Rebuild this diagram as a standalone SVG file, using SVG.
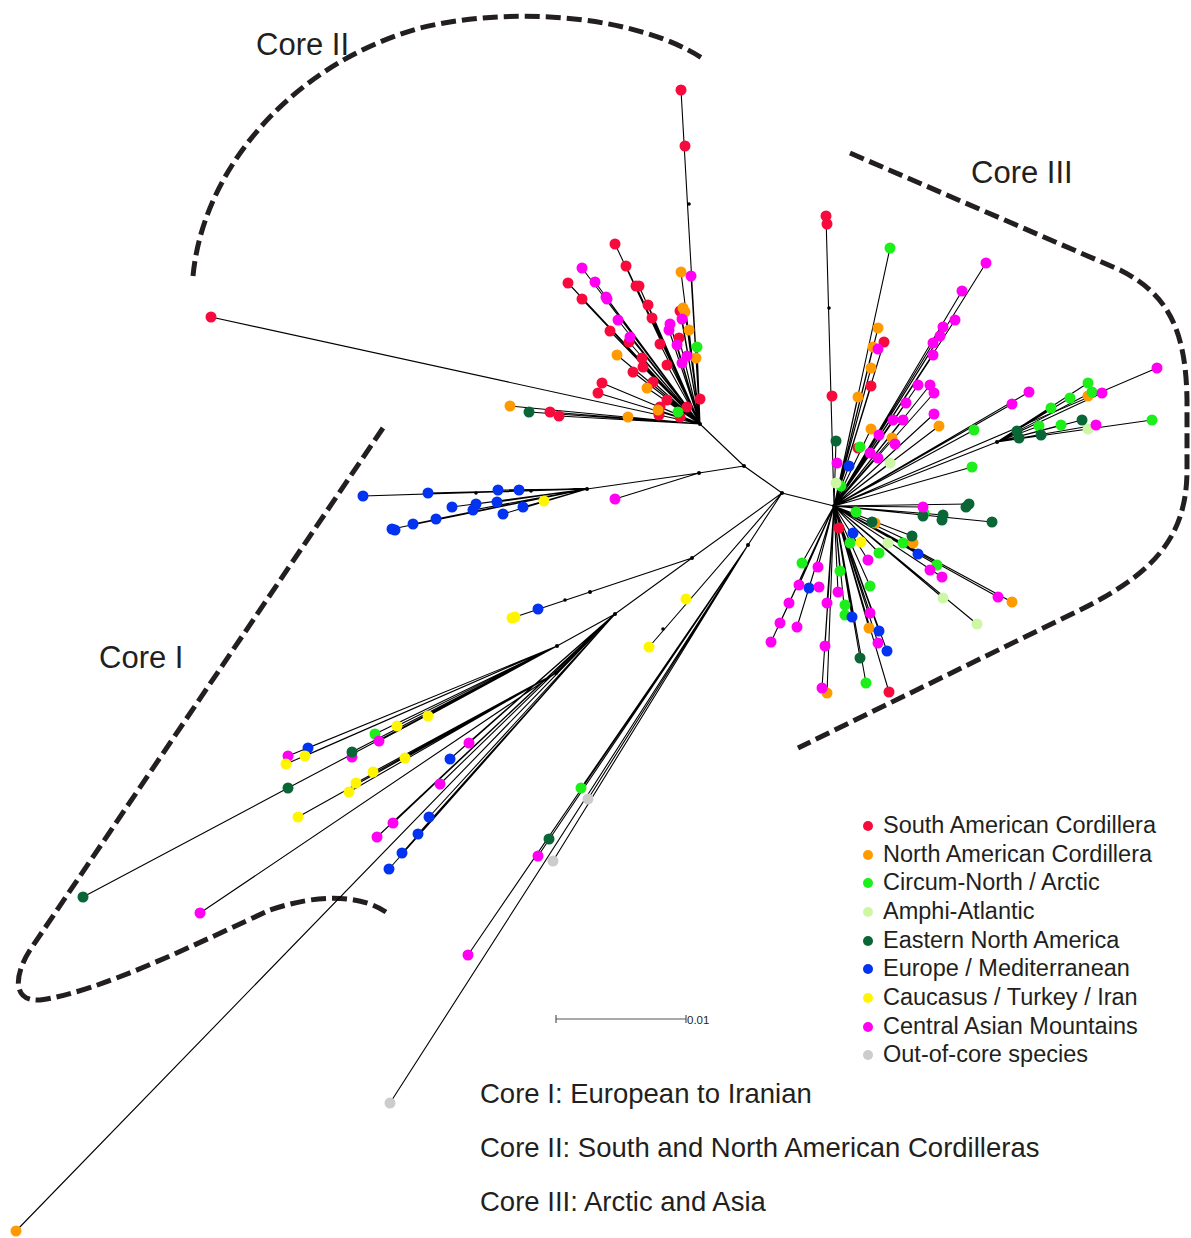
<svg xmlns="http://www.w3.org/2000/svg" width="1191" height="1238" viewBox="0 0 1191 1238">
<style>
.br{stroke:#000;stroke-width:1.1;fill:none}
.hull{stroke:#231f20;stroke-width:5;fill:none;stroke-dasharray:15 6}
.r{fill:#f70a3c}.o{fill:#ff9a00}.g{fill:#1def1a}.lg{fill:#cdf7a5}.dg{fill:#0a6636}.b{fill:#0233f0}.y{fill:#fff500}.m{fill:#ff00f2}.gr{fill:#cccccc}
.nd{fill:#000}
.lab{font-family:"Liberation Sans",Arial,sans-serif;fill:#231f20}
</style>
<rect width="1191" height="1238" fill="#fff"/>
<g id="hulls">
<path class="hull" d="M193,276 C203,170 290,65 420,28 C520,4 640,18 702,58"/>
<path class="hull" d="M850,153 L1120,270 C1168,294 1186,330 1187,400 L1187,470 C1187,540 1150,575 1080,610 L798,748"/>
<path class="hull" d="M383,428 L30,950 C14,975 12,1002 40,1000 C100,992 200,942 270,910 C320,893 360,895 386,912"/>
</g>
<g id="connectors" class="br">
<path d="M700,424 L744,466 L782,493 L834,506 M744,466 L699,473 L587,489 M699,473 L615,499 M782,493 L692,558 L590,592 L512,618 M692,558 L615,614 L557,646 M615,614 L556,673 M615,614 L16,1231 M782,493 L649,647 M782,493 L748,545 L390,1103 M748,545 L468,955 M748,545 L553,861 M748,545 L538,856 M748,545 L581,788 M748,545 L588,799"/>
<path d="M700,424 L681,90 M700,424 L211,317 M700,424 L615,244 M700,424 L568,283 M700,424 L626,266 M700,424 L582,299 M700,424 L639,286 M700,424 L648,305 M700,424 L610,331 M700,424 L629,342 M700,424 L660,344 M700,424 L680,311 M700,424 L679,338 M700,424 L667,365 M700,424 L642,358 M700,424 L633,372 M700,424 L643,367 M700,424 L602,383 M700,424 L598,393 M700,424 L653,382 M700,424 L667,400 M700,424 L660,407 M700,424 L687,407 M700,424 L550,412 M700,424 L559,416 M700,424 L681,272 M700,424 L617,355 M700,424 L685,312 M700,424 L689,330 M700,424 L696,358 M700,424 L647,388 M700,424 L658,410 M700,424 L510,406 M700,424 L628,417 M700,424 L582,268 M700,424 L595,282 M700,424 L607,299 M700,424 L618,320 M700,424 L630,337 M700,424 L691,276 M700,424 L670,324 M700,424 L677,345 M700,424 L669,330 M700,424 L682,319 M700,424 L697,347 M700,424 L529,412 M700,424 L636,286 M700,424 L652,318"/>
<path d="M834,506 L826,216 M834,506 L890,248 M834,506 L986,263 M834,506 L962,291 M834,506 L955,320 M834,506 L943,327 M834,506 L940,336 M834,506 L933,355 M834,506 L878,328 M834,506 L884,342 M834,506 L873,347 M834,506 L871,368 M834,506 L871,386 M834,506 L858,397 M834,506 L918,385 M834,506 L930,385 M834,506 L934,393 M834,506 L906,403 M834,506 L903,420 M834,506 L893,420 M834,506 L934,414 M834,506 L939,426 M834,506 L871,429 M834,506 L892,438 M834,506 L870,453 M834,506 L890,463 M834,506 L849,466 M834,506 L836,441 M834,506 L1029,392 M834,506 L1012,404 M834,506 L974,430 M834,506 L972,467 M834,506 L1157,368 M834,506 L997,442"/>
<path d="M997,442 L1088,383 M997,442 L1092,392 M997,442 L1102,393 M997,442 L1070,398 M997,442 L1051,408 M997,442 L1082,420 M997,442 L1096,425 M997,442 L1088,429 M997,442 L1061,425 M997,442 L1039,426 M997,442 L1041,435 M997,442 L1152,420"/>
<path d="M834,506 L969,504 M834,506 L923,507 M834,506 L943,515 M834,506 L992,522 M834,506 L912,536 M834,506 L913,543 M834,506 L918,554 M834,506 L937,565 M834,506 L942,577 M834,506 L998,597 M834,506 L1012,602 M834,506 L943,598 M834,506 L977,624 M834,506 L879,553 M834,506 L868,560 M834,506 L802,563 M834,506 L818,567 M834,506 L840,571 M834,506 L870,586 M834,506 L799,585 M834,506 L809,588 M834,506 L838,592 M834,506 L789,603 M834,506 L827,603 M834,506 L845,615 M834,506 L852,617 M834,506 L870,613 M834,506 L869,628 M834,506 L879,631 M834,506 L878,643 M834,506 L887,651 M834,506 L780,623 M834,506 L797,627 M834,506 L771,642 M834,506 L825,646 M834,506 L860,658 M834,506 L866,683 M834,506 L822,688 M834,506 L827,693 M834,506 L889,692"/>
<path d="M587,489 L363,496 M587,489 L428,493 M587,489 L498,490 M587,489 L519,490 M587,489 L497,502 M587,489 L452,507 M587,489 L476,504 M587,489 L473,510 M587,489 L503,514 M587,489 L523,507 M587,489 L544,501 M587,489 L392,529 M587,489 L413,524 M587,489 L436,519"/>
<path d="M557,646 L288,756 M557,646 L286,764 M557,646 L308,748 M557,646 L305,756 M557,646 L375,734 M557,646 L379,741 M557,646 L397,726 M557,646 L428,716 M557,646 L352,752 M557,646 L288,788 L83,897"/>
<path d="M556,673 L405,758 M556,673 L373,772 M556,673 L356,783 M556,673 L349,792 M556,673 L298,817 M556,673 L200,913 M615,614 L469,743 M615,614 L450,759 M615,614 L440,784 M615,614 L393,823 M615,614 L377,837 M615,614 L429,817 M615,614 L418,834 M615,614 L402,853 M615,614 L389,869"/>
</g>
<g id="internal-nodes" class="nd">
<circle cx="744" cy="466" r="2"/><circle cx="782" cy="493" r="2"/><circle cx="700" cy="424" r="2"/><circle cx="834" cy="506" r="2"/>
<circle cx="699" cy="473" r="2"/><circle cx="587" cy="489" r="2"/><circle cx="692" cy="558" r="2"/><circle cx="590" cy="592" r="2"/><circle cx="615" cy="614" r="2"/><circle cx="557" cy="646" r="2"/><circle cx="556" cy="673" r="2"/><circle cx="748" cy="545" r="2"/><circle cx="997" cy="442" r="2"/>
<circle cx="689" cy="204" r="1.8"/><circle cx="829" cy="308" r="1.8"/><circle cx="663" cy="629" r="1.8"/><circle cx="565" cy="600" r="1.8"/><circle cx="531" cy="491" r="1.8"/><circle cx="476" cy="493" r="1.8"/>
</g>
<g id="tips-core-ii">
<circle class="r" cx="681" cy="90" r="5.5"/><circle class="r" cx="685" cy="146" r="5.5"/><circle class="r" cx="211" cy="317" r="5.5"/><circle class="r" cx="615" cy="244" r="5.5"/><circle class="r" cx="568" cy="283" r="5.5"/><circle class="r" cx="626" cy="266" r="5.5"/><circle class="r" cx="582" cy="299" r="5.5"/><circle class="r" cx="639" cy="286" r="5.5"/><circle class="r" cx="636" cy="286" r="5.5"/><circle class="r" cx="648" cy="305" r="5.5"/><circle class="r" cx="610" cy="331" r="5.5"/><circle class="r" cx="629" cy="342" r="5.5"/><circle class="r" cx="660" cy="344" r="5.5"/><circle class="r" cx="680" cy="311" r="5.5"/><circle class="r" cx="679" cy="338" r="5.5"/><circle class="r" cx="667" cy="365" r="5.5"/><circle class="r" cx="642" cy="358" r="5.5"/><circle class="r" cx="633" cy="372" r="5.5"/><circle class="r" cx="643" cy="367" r="5.5"/><circle class="r" cx="602" cy="383" r="5.5"/><circle class="r" cx="598" cy="393" r="5.5"/><circle class="r" cx="653" cy="382" r="5.5"/><circle class="r" cx="667" cy="400" r="5.5"/><circle class="r" cx="660" cy="407" r="5.5"/><circle class="r" cx="700" cy="399" r="5.5"/><circle class="r" cx="687" cy="407" r="5.5"/><circle class="r" cx="680" cy="417" r="5.5"/><circle class="r" cx="550" cy="412" r="5.5"/><circle class="r" cx="559" cy="416" r="5.5"/><circle class="r" cx="659" cy="415" r="5.5"/><circle class="r" cx="652" cy="318" r="5.5"/>
<circle class="o" cx="681" cy="272" r="5.5"/><circle class="o" cx="617" cy="355" r="5.5"/><circle class="o" cx="685" cy="312" r="5.5"/><circle class="o" cx="689" cy="330" r="5.5"/><circle class="o" cx="696" cy="358" r="5.5"/><circle class="o" cx="647" cy="388" r="5.5"/><circle class="o" cx="658" cy="410" r="5.5"/><circle class="o" cx="510" cy="406" r="5.5"/><circle class="o" cx="628" cy="417" r="5.5"/><circle class="o" cx="683" cy="308" r="5.5"/>
<circle class="m" cx="582" cy="268" r="5.5"/><circle class="m" cx="595" cy="282" r="5.5"/><circle class="m" cx="607" cy="299" r="5.5"/><circle class="m" cx="606" cy="297" r="5.5"/><circle class="m" cx="618" cy="320" r="5.5"/><circle class="m" cx="630" cy="337" r="5.5"/><circle class="m" cx="691" cy="276" r="5.5"/><circle class="m" cx="670" cy="324" r="5.5"/><circle class="m" cx="677" cy="345" r="5.5"/><circle class="m" cx="669" cy="330" r="5.5"/><circle class="m" cx="682" cy="319" r="5.5"/><circle class="m" cx="682" cy="363" r="5.5"/><circle class="m" cx="687" cy="356" r="5.5"/>
<circle class="g" cx="697" cy="347" r="5.5"/><circle class="g" cx="678" cy="412" r="5.5"/><circle class="dg" cx="529" cy="412" r="5.5"/>
</g>
<g id="tips-core-iii">
<circle class="r" cx="826" cy="216" r="5.5"/><circle class="r" cx="827" cy="224" r="5.5"/><circle class="r" cx="832" cy="396" r="5.5"/><circle class="r" cx="884" cy="342" r="5.5"/><circle class="r" cx="871" cy="386" r="5.5"/><circle class="r" cx="858" cy="448" r="5.5"/><circle class="r" cx="839" cy="528" r="5.5"/><circle class="r" cx="889" cy="692" r="5.5"/>
<circle class="o" cx="878" cy="328" r="5.5"/><circle class="o" cx="873" cy="347" r="5.5"/><circle class="o" cx="871" cy="368" r="5.5"/><circle class="o" cx="858" cy="397" r="5.5"/><circle class="o" cx="939" cy="426" r="5.5"/><circle class="o" cx="871" cy="429" r="5.5"/><circle class="o" cx="892" cy="438" r="5.5"/><circle class="o" cx="1088" cy="396" r="5.5"/><circle class="o" cx="875" cy="523" r="5.5"/><circle class="o" cx="913" cy="543" r="5.5"/><circle class="o" cx="1012" cy="602" r="5.5"/><circle class="o" cx="869" cy="628" r="5.5"/><circle class="o" cx="827" cy="693" r="5.5"/>
<circle class="g" cx="890" cy="248" r="5.5"/><circle class="g" cx="974" cy="430" r="5.5"/><circle class="g" cx="972" cy="467" r="5.5"/><circle class="g" cx="860" cy="447" r="5.5"/><circle class="g" cx="841" cy="486" r="5.5"/><circle class="g" cx="1088" cy="383" r="5.5"/><circle class="g" cx="1092" cy="392" r="5.5"/><circle class="g" cx="1070" cy="398" r="5.5"/><circle class="g" cx="1051" cy="408" r="5.5"/><circle class="g" cx="1061" cy="425" r="5.5"/><circle class="g" cx="1039" cy="426" r="5.5"/><circle class="g" cx="1152" cy="420" r="5.5"/><circle class="g" cx="924" cy="513" r="5.5"/><circle class="g" cx="856" cy="512" r="5.5"/><circle class="g" cx="850" cy="543" r="5.5"/><circle class="g" cx="903" cy="543" r="5.5"/><circle class="g" cx="879" cy="553" r="5.5"/><circle class="g" cx="937" cy="565" r="5.5"/><circle class="g" cx="802" cy="563" r="5.5"/><circle class="g" cx="840" cy="571" r="5.5"/><circle class="g" cx="870" cy="586" r="5.5"/><circle class="g" cx="845" cy="605" r="5.5"/><circle class="g" cx="845" cy="615" r="5.5"/><circle class="g" cx="866" cy="683" r="5.5"/>
<circle class="lg" cx="890" cy="463" r="5.5"/><circle class="lg" cx="836" cy="483" r="5.5"/><circle class="lg" cx="1088" cy="429" r="5.5"/><circle class="lg" cx="888" cy="543" r="5.5"/><circle class="lg" cx="943" cy="598" r="5.5"/><circle class="lg" cx="977" cy="624" r="5.5"/>
<circle class="dg" cx="836" cy="441" r="5.5"/><circle class="dg" cx="1082" cy="420" r="5.5"/><circle class="dg" cx="1041" cy="435" r="5.5"/><circle class="dg" cx="1017" cy="431" r="5.5"/><circle class="dg" cx="1019" cy="438" r="5.5"/><circle class="dg" cx="969" cy="504" r="5.5"/><circle class="dg" cx="966" cy="507" r="5.5"/><circle class="dg" cx="923" cy="516" r="5.5"/><circle class="dg" cx="943" cy="515" r="5.5"/><circle class="dg" cx="942" cy="520" r="5.5"/><circle class="dg" cx="992" cy="522" r="5.5"/><circle class="dg" cx="872" cy="522" r="5.5"/><circle class="dg" cx="912" cy="536" r="5.5"/><circle class="dg" cx="860" cy="658" r="5.5"/>
<circle class="b" cx="849" cy="466" r="5.5"/><circle class="b" cx="853" cy="533" r="5.5"/><circle class="b" cx="918" cy="554" r="5.5"/><circle class="b" cx="809" cy="588" r="5.5"/><circle class="b" cx="852" cy="617" r="5.5"/><circle class="b" cx="879" cy="631" r="5.5"/><circle class="b" cx="887" cy="651" r="5.5"/>
<circle class="y" cx="861" cy="542" r="5.5"/>
<circle class="m" cx="986" cy="263" r="5.5"/><circle class="m" cx="962" cy="291" r="5.5"/><circle class="m" cx="955" cy="320" r="5.5"/><circle class="m" cx="943" cy="327" r="5.5"/><circle class="m" cx="940" cy="336" r="5.5"/><circle class="m" cx="933" cy="343" r="5.5"/><circle class="m" cx="933" cy="355" r="5.5"/><circle class="m" cx="878" cy="349" r="5.5"/><circle class="m" cx="918" cy="385" r="5.5"/><circle class="m" cx="930" cy="385" r="5.5"/><circle class="m" cx="934" cy="393" r="5.5"/><circle class="m" cx="906" cy="403" r="5.5"/><circle class="m" cx="903" cy="420" r="5.5"/><circle class="m" cx="893" cy="420" r="5.5"/><circle class="m" cx="934" cy="414" r="5.5"/><circle class="m" cx="879" cy="435" r="5.5"/><circle class="m" cx="895" cy="444" r="5.5"/><circle class="m" cx="870" cy="453" r="5.5"/><circle class="m" cx="878" cy="458" r="5.5"/><circle class="m" cx="837" cy="463" r="5.5"/><circle class="m" cx="1029" cy="392" r="5.5"/><circle class="m" cx="1012" cy="404" r="5.5"/><circle class="m" cx="1157" cy="368" r="5.5"/><circle class="m" cx="1102" cy="393" r="5.5"/><circle class="m" cx="1096" cy="425" r="5.5"/><circle class="m" cx="923" cy="507" r="5.5"/><circle class="m" cx="868" cy="560" r="5.5"/><circle class="m" cx="930" cy="570" r="5.5"/><circle class="m" cx="942" cy="577" r="5.5"/><circle class="m" cx="998" cy="597" r="5.5"/><circle class="m" cx="818" cy="567" r="5.5"/><circle class="m" cx="799" cy="585" r="5.5"/><circle class="m" cx="819" cy="587" r="5.5"/><circle class="m" cx="838" cy="592" r="5.5"/><circle class="m" cx="789" cy="603" r="5.5"/><circle class="m" cx="827" cy="603" r="5.5"/><circle class="m" cx="870" cy="613" r="5.5"/><circle class="m" cx="878" cy="643" r="5.5"/><circle class="m" cx="780" cy="623" r="5.5"/><circle class="m" cx="797" cy="627" r="5.5"/><circle class="m" cx="771" cy="642" r="5.5"/><circle class="m" cx="825" cy="646" r="5.5"/><circle class="m" cx="822" cy="688" r="5.5"/>
</g>
<g id="tips-core-i">
<circle class="b" cx="363" cy="496" r="5.5"/><circle class="b" cx="428" cy="493" r="5.5"/><circle class="b" cx="498" cy="490" r="5.5"/><circle class="b" cx="519" cy="490" r="5.5"/><circle class="b" cx="497" cy="502" r="5.5"/><circle class="b" cx="452" cy="507" r="5.5"/><circle class="b" cx="476" cy="504" r="5.5"/><circle class="b" cx="473" cy="510" r="5.5"/><circle class="b" cx="503" cy="514" r="5.5"/><circle class="b" cx="523" cy="507" r="5.5"/><circle class="y" cx="544" cy="501" r="5.5"/><circle class="b" cx="392" cy="529" r="5.5"/><circle class="b" cx="395" cy="530" r="5.5"/><circle class="b" cx="413" cy="524" r="5.5"/><circle class="b" cx="436" cy="519" r="5.5"/>
<circle class="m" cx="615" cy="499" r="5.5"/>
<circle class="b" cx="538" cy="609" r="5.5"/><circle class="y" cx="515" cy="617" r="5.5"/><circle class="y" cx="512" cy="618" r="5.5"/>
<circle class="y" cx="686" cy="599" r="5.5"/><circle class="y" cx="649" cy="647" r="5.5"/>
<circle class="m" cx="288" cy="756" r="5.5"/><circle class="y" cx="286" cy="764" r="5.5"/><circle class="b" cx="308" cy="748" r="5.5"/><circle class="y" cx="305" cy="756" r="5.5"/><circle class="g" cx="375" cy="734" r="5.5"/><circle class="m" cx="379" cy="741" r="5.5"/><circle class="y" cx="397" cy="726" r="5.5"/><circle class="y" cx="428" cy="716" r="5.5"/><circle class="m" cx="352" cy="757" r="5.5"/><circle class="dg" cx="352" cy="752" r="5.5"/><circle class="dg" cx="288" cy="788" r="5.5"/><circle class="dg" cx="83" cy="897" r="5.5"/>
<circle class="y" cx="405" cy="758" r="5.5"/><circle class="y" cx="373" cy="772" r="5.5"/><circle class="y" cx="356" cy="783" r="5.5"/><circle class="y" cx="349" cy="792" r="5.5"/><circle class="y" cx="298" cy="817" r="5.5"/><circle class="m" cx="200" cy="913" r="5.5"/>
<circle class="m" cx="469" cy="743" r="5.5"/><circle class="b" cx="450" cy="759" r="5.5"/><circle class="m" cx="440" cy="784" r="5.5"/><circle class="m" cx="393" cy="823" r="5.5"/><circle class="m" cx="377" cy="837" r="5.5"/><circle class="b" cx="429" cy="817" r="5.5"/><circle class="b" cx="418" cy="834" r="5.5"/><circle class="b" cx="402" cy="853" r="5.5"/><circle class="b" cx="389" cy="869" r="5.5"/>
</g>
<g id="tips-outer">
<circle class="g" cx="581" cy="788" r="5.5"/><circle class="gr" cx="588" cy="799" r="5.5"/><circle class="dg" cx="549" cy="839" r="5.5"/><circle class="m" cx="538" cy="856" r="5.5"/><circle class="gr" cx="553" cy="861" r="5.5"/><circle class="m" cx="468" cy="955" r="5.5"/><circle class="gr" cx="390" cy="1103" r="5.5"/><circle class="o" cx="16" cy="1231" r="5.5"/>
</g>
<g id="hull-labels" class="lab" font-size="31">
<text x="256" y="55">Core II</text>
<text x="971" y="183">Core III</text>
<text x="99" y="668">Core I</text>
</g>
<g id="legend" class="lab" font-size="23.5">
<circle class="r" cx="868" cy="826" r="5"/><text x="883" y="833">South American Cordillera</text>
<circle class="o" cx="868" cy="855" r="5"/><text x="883" y="862">North American Cordillera</text>
<circle class="g" cx="868" cy="883" r="5"/><text x="883" y="890">Circum-North / Arctic</text>
<circle class="lg" cx="868" cy="912" r="5"/><text x="883" y="919">Amphi-Atlantic</text>
<circle class="dg" cx="868" cy="941" r="5"/><text x="883" y="948">Eastern North America</text>
<circle class="b" cx="868" cy="969" r="5"/><text x="883" y="976">Europe / Mediterranean</text>
<circle class="y" cx="868" cy="998" r="5"/><text x="883" y="1005">Caucasus / Turkey / Iran</text>
<circle class="m" cx="868" cy="1027" r="5"/><text x="883" y="1034">Central Asian Mountains</text>
<circle class="gr" cx="868" cy="1055" r="5"/><text x="883" y="1062">Out-of-core species</text>
</g>
<g id="scale-bar">
<path d="M556,1019 H686 M556,1015 V1023 M686,1015 V1023" stroke="#555" stroke-width="1.2" fill="none"/>
<text class="lab" x="687" y="1024" font-size="11.5">0.01</text>
</g>
<g id="captions" class="lab" font-size="27.5">
<text x="480" y="1103">Core I: European to Iranian</text>
<text x="480" y="1157">Core II: South and North American Cordilleras</text>
<text x="480" y="1211">Core III: Arctic and Asia</text>
</g>
</svg>
